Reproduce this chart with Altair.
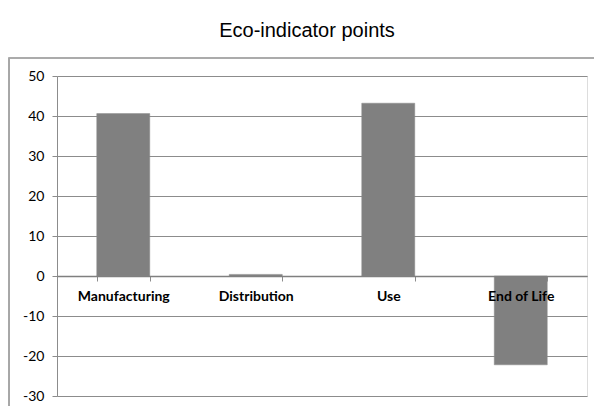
import altair as alt
import pandas as pd

# Life-cycle stages and their Eco-indicator scores
stages = ["Manufacturing", "Distribution", "Use", "End of Life"]
points = [40.6, 0.4, 43.2, -22.2]
y_ticks = [-30, -20, -10, 0, 10, 20, 30, 40, 50]

df = pd.DataFrame({"stage": stages, "points": points})

GRID = "#8c8c8c"
BAR = "#808080"

x_enc = alt.X(
    "stage:N",
    sort=stages,
    title=None,
    scale=alt.Scale(paddingInner=0.6, paddingOuter=0.3),
    axis=alt.Axis(
        orient="bottom",
        offset=-120,
        labelAngle=0,
        labelFont="Lato",
        labelFontWeight="bold",
        labelFontSize=14,
        labelColor="#000000",
        labelPadding=8,
        tickBand="extent",
        tickColor=GRID,
        tickSize=5,
        domainColor="#7f7f7f",
        domainWidth=1.5,
        zindex=1,
    ),
)

y_enc = alt.Y(
    "points:Q",
    title=None,
    scale=alt.Scale(domain=[-30, 50], nice=False),
    axis=alt.Axis(
        values=y_ticks,
        labelExpr="toString(datum.value)",
        grid=True,
        gridColor=GRID,
        gridWidth=1,
        tickColor=GRID,
        tickSize=5,
        domainColor=GRID,
        labelFont="Lato",
        labelFontSize=14,
        labelColor="#000000",
        labelPadding=8,
    ),
)

bars = alt.Chart(df).mark_bar(color=BAR, stroke="#8a8a8a", strokeWidth=0.5).encode(
    x=x_enc, y=y_enc
)

# outer chart frame
frame = alt.Chart(df).mark_rect(
    fill=None, stroke="#a6a6a6", strokeWidth=1.2
).encode(
    x=alt.value(-48), x2=alt.value(620), y=alt.value(-18), y2=alt.value(420)
)

chart = (
    alt.layer(frame, bars)
    .properties(
        width=530,
        height=320,
        padding={"left": 57, "top": 76, "right": 7, "bottom": 10},
        autosize=alt.AutoSizeParams(type="none"),
        title=alt.TitleParams(
            text="Eco-indicator points",
            font="Liberation Sans",
            fontSize=20,
            fontWeight="normal",
            color="#000000",
            anchor="middle",
            dx=-15,
            offset=16,
        ),
    )
    .configure_view(stroke=None)
    .configure(background="#ffffff")
)

chart.save("out.html", embed_options={"renderer": "svg", "actions": False})
